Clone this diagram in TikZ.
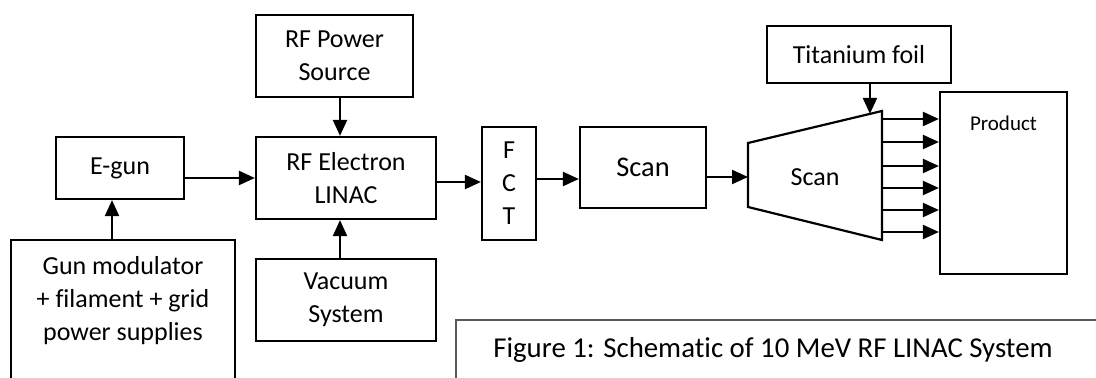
\documentclass[tikz,border=0pt]{standalone}
\usepackage{fontspec}
\setmainfont{Carlito}[Ligatures=NoCommon]
\usetikzlibrary{arrows.meta,calc}

\begin{document}
\begin{tikzpicture}[x=0.5pt, y=-0.5pt,
  box/.style={draw, line width=1.1pt, align=center, inner sep=0pt,
    font=\fontsize{13}{16.5}\selectfont},
  arr/.style={line width=1.1pt, -{Triangle[length=8pt,width=7pt]}}]
  \useasboundingbox (0,0) rectangle (1096,378);
  \clip (0,0) rectangle (1096,378);

  \node[box, minimum width=64pt, minimum height=31pt] (egun) at (120,168) {E-gun};
  \node[box, minimum width=112pt, minimum height=90pt, anchor=north] (gunmod) at (123,239) {};
  \node[align=center, font=\fontsize{13}{16.5}\selectfont] (gunmodtxt) at (123,301)
    {Gun modulator\\+ filament + grid\\power supplies};
  \node[box, minimum width=78.5pt, minimum height=41pt] (power) at (334.5,56) {RF Power\\Source};
  \node[box, minimum width=90pt, minimum height=41pt] (linac) at (346,178) {RF Electron\\LINAC};
  \node[box, minimum width=90pt, minimum height=41pt] (vacuum) at (346,300) {Vacuum\\System};
  \node[box, minimum width=27pt, minimum height=56.5pt] (fct) at (509,183.5) {F\\C\\T};
  \node[box, minimum width=63pt, minimum height=40.5pt, font=\fontsize{14.2}{17}\selectfont] (scanbox) at (643,167.5) {Scan};
  \node[box, minimum width=92pt, minimum height=28.5pt] (foil) at (859,54.5) {Titanium foil};
  \node[box, minimum width=63.5pt, minimum height=91pt] (product) at (1003.5,183) {};
  \node[font=\fontsize{10.5}{12}\selectfont] (prodtxt) at ([yshift=-16pt]product.north) {Product};

  % scanning horn
  \coordinate (hornTL) at (748,143);
  \coordinate (hornTR) at (882,111);
  \coordinate (hornBR) at (882,240);
  \coordinate (hornBL) at (748,207);
  \draw[line width=1.1pt] (hornTL) -- (hornTR) -- (hornBR) -- (hornBL) -- cycle;
  \node[font=\fontsize{13}{16}\selectfont] (horn) at (815,177) {Scan};

  % beam line
  \draw[arr] (egun.east |- linac.west) -- (linac.west);
  \coordinate (fctin) at ([yshift=0.75pt]fct.west);
  \draw[arr] (linac.east |- fctin) -- (fctin);
  \coordinate (scanin) at ([yshift=-5.75pt]scanbox.west);
  \draw[arr] (fct.east |- scanin) -- (scanin);
  \coordinate (hornin) at (748,177);
  \draw[arr] (scanbox.east |- hornin) -- (hornin);
  \foreach \yy in {119,142,166,188,210,232}
    \draw[arr] (hornTR |- 0,\yy) -- (product.west |- 0,\yy);

  % supplies
  \coordinate (gunin) at ([xshift=-4pt]egun.south);
  \draw[arr] (gunin |- gunmod.north) -- (gunin);
  \coordinate (rfin) at ([xshift=-3pt]linac.north);
  \draw[arr] (rfin |- power.south) -- (rfin);
  \coordinate (vacin) at ([xshift=-3pt]linac.south);
  \draw[arr] (vacin |- vacuum.north) -- (vacin);
  \coordinate (foilhit) at ($(hornTL)!0.91!(hornTR)$);
  \draw[arr] (foil.south -| foilhit) -- (foilhit);

  % caption
  \draw[black!65, line width=0.7pt] (456,400) |- (1110,320);
  \node[font=\fontsize{14.4}{17}\selectfont] (caption) at (773,350) {Figure 1: Schematic of 10 MeV RF LINAC System};
\end{tikzpicture}
\end{document}
